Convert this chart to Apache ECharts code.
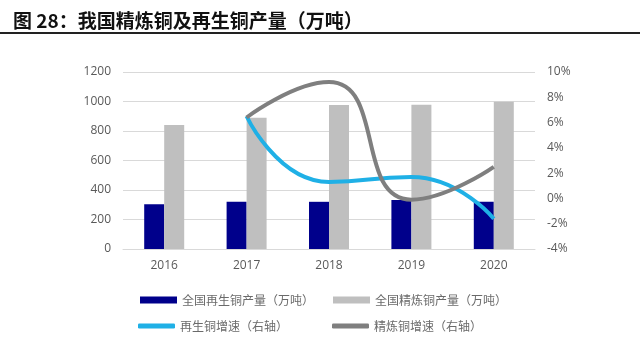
<!DOCTYPE html>
<html><head><meta charset="utf-8">
<script src="https://cdn.jsdelivr.net/npm/echarts@6/dist/echarts.min.js"></script>
<style>html,body{margin:0;padding:0;background:#fff}#c{width:640px;height:361px}</style>
</head><body><div id="c"></div>
<script>
var categories = ['2016','2017','2018','2019','2020'];
var recycledOutput = [303, 321, 320, 332, 320];
var refinedOutput = [841, 890, 976, 978, 999];
var recycledGrowth = [null, 6.5, 1.3, 1.7, -1.6];
var refinedGrowth = [null, 6.4, 9.2, -0.1, 2.5];
var leftTicks = {min: 0, max: 1200, interval: 200};
var rightTicks = {min: -4, max: 10, interval: 2};

var chart = echarts.init(document.getElementById('c'), null, {renderer: 'canvas'});
var fontCJK = '"Noto Sans CJK SC", "Noto Sans", sans-serif';
var lbl = {color: '#595959', fontSize: 12, fontFamily: '"Open Sans", "Liberation Sans", sans-serif'};
var legTxt = {color: '#6a6a6a', fontSize: 12, fontFamily: fontCJK};
function leg(name, left, top, h, icon) {
  return {data: [name], left: left, top: top, itemWidth: 37, itemHeight: h, itemGap: 0,
    icon: icon, textStyle: legTxt, padding: 0};
}
chart.setOption({
  animation: false,
  title: {
    text: '图 28：我国精炼铜及再生铜产量（万吨）',
    left: 8, top: 6,
    textStyle: {fontSize: 19, fontWeight: 'bold', color: '#111', fontFamily: fontCJK}
  },
  graphic: [{type: 'rect', shape: {x: 0, y: 32, width: 640, height: 2}, style: {fill: '#222'}}],
  grid: {left: 123, right: 105, top: 72, bottom: 112, containLabel: false},
  legend: [
    leg('全国再生铜产量（万吨）', 140, 294, 7, 'rect'),
    leg('全国精炼铜产量（万吨）', 333, 294, 7, 'rect'),
    leg('再生铜增速（右轴）', 138, 320, 5, 'roundRect'),
    leg('精炼铜增速（右轴）', 332, 320, 5, 'roundRect')
  ],
  xAxis: {
    type: 'category', data: categories,
    axisLine: {show: true, lineStyle: {color: '#d9d9d9'}},
    axisTick: {show: false},
    axisLabel: Object.assign({margin: 11}, lbl)
  },
  yAxis: [{
    type: 'value', min: leftTicks.min, max: leftTicks.max, interval: leftTicks.interval,
    axisLine: {show: false}, axisTick: {show: false},
    axisLabel: Object.assign({margin: 12, formatter: function(v){return String(v);}}, lbl),
    splitLine: {lineStyle: {color: '#d9d9d9'}}
  }, {
    type: 'value', min: rightTicks.min, max: rightTicks.max, interval: rightTicks.interval,
    axisLine: {show: false}, axisTick: {show: false},
    axisLabel: Object.assign({margin: 12, formatter: function(v){return v + '%';}}, lbl),
    splitLine: {show: false}
  }],
  series: [{
    name: '全国再生铜产量（万吨）', type: 'bar', data: recycledOutput,
    barWidth: 20, barGap: '0%', itemStyle: {color: '#00008B'}
  }, {
    name: '全国精炼铜产量（万吨）', type: 'bar', data: refinedOutput,
    barWidth: 20, itemStyle: {color: '#BFBFBF'}
  }, {
    name: '再生铜增速（右轴）', type: 'line', yAxisIndex: 1, data: recycledGrowth,
    smooth: 0.55, symbol: 'none', lineStyle: {color: '#1FB0E6', width: 4}, itemStyle: {color: '#1FB0E6'}
  }, {
    name: '精炼铜增速（右轴）', type: 'line', yAxisIndex: 1, data: refinedGrowth,
    smooth: 0.55, symbol: 'none', lineStyle: {color: '#7F7F7F', width: 4}, itemStyle: {color: '#7F7F7F'}
  }]
});
</script></body></html>
